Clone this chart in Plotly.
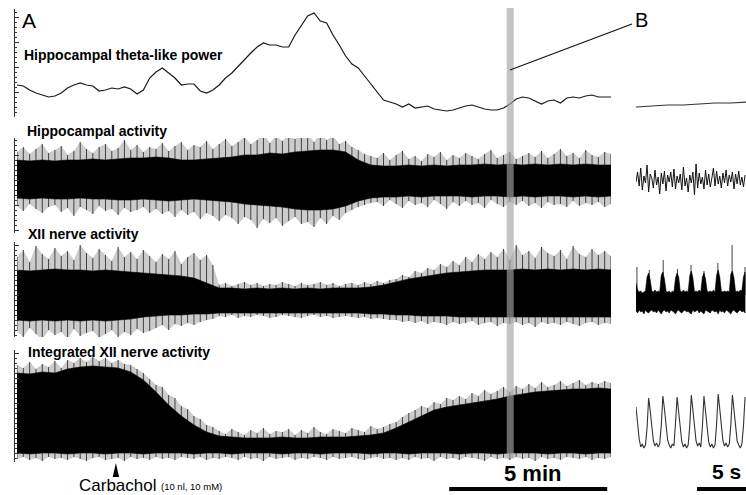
import numpy as np
import plotly.graph_objects as go

W, H = 746, 495

# ---------------- DATA ----------------
# Panel A (time in minutes). Fine series sampled every 0.2 min, envelopes every 0.4 min.
A_FINE_STEP = 0.2
A_CORE_STEP = 0.4

theta_power = [32, 31, 27, 24, 22, 20, 21, 24, 29, 32,
               34, 32, 31, 26, 27, 29, 28, 30, 28, 23,
               27, 39, 45, 49, 44, 39, 32, 33, 33, 26,
               24, 27, 32, 39, 44, 51, 57, 64, 70, 74,
               72, 72, 70, 70, 82, 91, 101, 104, 96, 94,
               82, 72, 61, 53, 49, 41, 33, 24, 17, 15,
               13, 10, 13, 9, 10, 11, 8, 7, 6, 7,
               9, 11, 12, 10, 8, 7, 7, 9, 13, 18,
               20, 19, 16, 13, 16, 17, 14, 19, 20, 19,
               21, 22, 20, 20, 20]

hippo_core_hi = [20, 19, 20, 19, 20, 20, 21, 20, 21, 22,
                 22, 23, 22, 20, 20, 21, 22, 23, 25, 25,
                 27, 26, 28, 29, 30, 30, 28, 20, 15, 14,
                 14, 15, 14, 15, 14, 15, 15, 16, 15, 16,
                 15, 16, 15, 16, 15, 16, 15, 15]
hippo_core_lo = [-18, -19, -18, -19, -19, -18, -19, -19, -20, -20,
                 -19, -20, -21, -20, -19, -20, -21, -22, -24, -25,
                 -26, -27, -29, -30, -30, -29, -26, -21, -18, -17,
                 -17, -16, -17, -16, -16, -16, -17, -16, -16, -17,
                 -16, -17, -16, -16, -17, -16, -17, -16]
hippo_spk_up = [28, 33, 26, 31, 36, 27, 30, 34, 25, 29, 38, 31, 27, 33, 36, 29, 32, 40, 30, 35, 28, 33,
                31, 37, 29, 34, 38, 30, 35, 33, 39, 31, 36, 41, 34, 38, 43, 36, 40, 47, 37, 44, 39, 45, 41, 48,
                46, 38, 47, 40, 44, 36, 39, 33, 30, 26, 24,
                22, 27, 20, 25, 29, 21, 24, 19, 26, 23, 28, 20, 25, 22, 27, 24, 21, 26, 30, 22,
                25, 28, 21, 24, 27, 23, 29, 22, 26, 31, 24, 27, 22, 30, 25, 23, 28, 26]
hippo_spk_dn = [-26, -31, -24, -29, -33, -27, -25, -32, -28, -36, -27, -30, -34, -26, -31, -29, -35, -28, -32, -30, -27, -33,
                -29, -34, -31, -37, -30, -35, -32, -39, -33, -36, -41, -35, -38, -44, -37, -40, -48, -39, -43, -38, -46, -41, -37, -44,
                -42, -47, -38, -44, -36, -40, -33, -30, -27, -25, -23,
                -22, -26, -20, -24, -28, -21, -25, -23, -27, -20, -24, -29, -22, -26, -21, -25, -23, -28, -20, -24,
                -27, -22, -25, -21, -26, -23, -28, -22, -25, -24, -27, -21, -26, -23, -25, -22, -27, -24]

xii_core_hi = [25, 24, 25, 26, 25, 25, 24, 25, 24, 23,
               22, 21, 20, 19, 17, 12, 7, 7, 6, 7,
               6, 7, 6, 7, 6, 7, 7, 7, 8, 10,
               13, 16, 18, 20, 22, 23, 24, 25, 25, 25,
               26, 25, 26, 25, 26, 25, 26, 25]
xii_core_lo = [-25, -26, -25, -26, -25, -26, -25, -26, -25, -24,
               -22, -21, -20, -20, -19, -19, -18, -18, -18, -18,
               -18, -18, -18, -18, -18, -18, -18, -18, -19, -19,
               -20, -20, -21, -21, -21, -22, -22, -22, -22, -22,
               -22, -22, -22, -22, -22, -22, -22, -22]
xii_spk_up = [38, 45, 33, 49, 41, 36, 47, 39, 44, 35, 50, 42, 37, 46, 40, 34, 48, 38, 43, 36, 45, 39,
              33, 41, 36, 44, 31, 38, 42, 35, 40, 30,
              10, 12, 9, 11, 13, 10, 12, 9, 11, 10, 13, 11, 9, 12, 10, 11, 13, 10, 12, 9, 11, 12, 10, 13, 11, 14, 12, 15,
              16, 20, 18, 24, 22, 27, 25, 31, 28, 34, 30, 38, 33, 41, 36, 43, 38, 46, 35, 50,
              40, 44, 37, 48, 42, 39, 45, 36, 49, 41, 38, 46, 40, 44, 39]
xii_spk_dn = [-36, -42, -33, -39, -45, -35, -40, -37, -44, -34, -41, -38, -36, -43, -39, -35, -42, -37, -40, -34, -38, -36,
              -33, -30, -35, -29, -31, -28, -30, -27, -25, -24,
              -21, -22, -20, -23, -21, -22, -20, -21, -23, -22, -20, -21, -22, -23, -21, -20, -22, -21, -23, -22,
              -21, -22, -23, -22, -24, -23, -24, -25,
              -25, -27, -26, -28, -26, -29, -27, -28, -30, -27, -29, -28, -26, -30, -28, -27, -31, -28, -29, -27,
              -30, -28, -32, -27, -29, -28, -30, -27, -29, -31, -28, -27, -30, -28, -29]

int_core_hi = [80, 79, 81, 80, 84, 86, 87, 86, 85, 81,
               73, 61, 48, 37, 28, 21, 17, 16, 15, 15,
               15, 16, 15, 15, 16, 16, 16, 17, 18, 20,
               25, 31, 37, 43, 46, 48, 50, 52, 54, 57,
               59, 61, 62, 63, 64, 64, 65, 64]
int_core_lo = [0, -1, 0, 0, -1, 0, 0, -1, 0, 0,
               -1, 0, 0, 0, -1, 0, 0, -1, 0, 0,
               0, -1, 0, 0, -1, 0, 0, 0, -1, 0,
               0, -1, 0, 0, 0, -1, 0, 0, -1, 0,
               0, 0, -1, 0, 0, -1, 0, 0]
int_spk_up = [88, 85, 91, 84, 89, 86, 92, 85, 93, 90, 95, 91, 96, 92, 95, 90, 93, 89, 88, 84, 80, 74,
              68, 66, 58, 55, 47, 44, 37, 34, 28, 26,
              22, 19, 24, 21, 18, 23, 20, 25, 19, 22, 21, 24, 18, 23, 20, 26, 21, 19, 24, 22, 20, 25, 23, 21,
              27, 24, 26, 29, 31,
              36, 40, 43, 47, 45, 51, 49, 55, 53, 57, 54, 60, 57, 63, 59, 62, 66, 61, 67, 64,
              69, 65, 71, 66, 68, 72, 67, 70, 73, 68, 71, 69, 72, 70]
int_spk_dn = [-6, -4, -7, -5, -8, -4, -6, -5, -7, -4, -6, -8, -5, -4, -7, -6, -5, -8, -4, -6, -5, -7,
              -4, -6, -5, -7, -4, -5, -6, -4, -7, -5,
              -6, -4, -5, -7, -4, -6, -5, -8, -4, -6, -5, -4, -7, -5, -6, -4, -5, -7, -4, -6, -5, -4, -6, -7,
              -5, -4, -6, -5, -7,
              -5, -7, -4, -6, -5, -8, -4, -6, -5, -7, -4, -5, -6, -8, -4, -6, -5, -7, -4, -6,
              -5, -8, -4, -6, -5, -7, -4, -5, -6, -4, -7, -5, -6, -4]

carbachol_min = 3.13          # time of carbachol injection (min)
b_window_min = [15.5, 15.72]  # window shown enlarged in panel B (min)
scale_a_min = 5               # scale bar panel A (min)
scale_b_s = 5                 # scale bar panel B (s)

# Panel B (time in seconds). Sampled every 0.05 s; theta every 0.5 s.
B_STEP = 0.05
b_theta = [10, 11, 12, 12, 13, 14, 14, 15]
b_hippo = [-2, 8, -6, 12, -10, 4, -3, 15, -12, 6,
           2, -8, 10, -5, 3, -14, 7, -4, 9, -11,
           5, -2, 8, -7, 11, -9, 4, -3, 6, -10,
           13, -6, 2, -12, 5, -3, 8, -15, 16, -8,
           7, -4, 3, -9, 10, -5, 6, -7, 2, 12,
           -6, 9, -4, 4, -8, 7, -3, 10, -6, 5,
           -2, 8, -9, 6, -4, 9, -5, 3, -7, 5]
b_xii_hi = [12, 5, 3, 4, 2, 3, 4, 18, 22, 15,
            4, 3, 5, 3, 4, 3, 20, 23, 16, 4,
            3, 4, 2, 4, 3, 17, 22, 18, 4, 3,
            5, 3, 4, 3, 19, 24, 17, 3, 4, 3,
            5, 3, 18, 22, 16, 4, 3, 4, 3, 5,
            3, 20, 25, 18, 4, 3, 4, 3, 4, 3,
            21, 24, 17, 3, 4, 3, 5, 4, 18, 23]
b_xii_lo = [-16, -18, -15, -17, -16, -19, -15, -17, -18, -16,
            -15, -17, -16, -18, -15, -17, -19, -16, -15, -17,
            -16, -18, -15, -16, -17, -19, -16, -15, -17, -18,
            -16, -15, -17, -16, -18, -19, -15, -17, -16, -15,
            -18, -16, -17, -19, -15, -16, -17, -18, -15, -16,
            -17, -16, -19, -15, -17, -16, -18, -15, -16, -17,
            -19, -16, -15, -17, -18, -16, -15, -17, -16, -18]
b_xii_spk_t = [0.03, 0.42, 0.86, 1.31, 1.74, 2.15, 2.59, 3.04, 3.45]
b_xii_spk = [28, 25, 35, 26, 30, 24, 32, 50, 28]
b_int = [46, 30, 14, 6, 9, 5, 8, 25, 55,
         42, 24, 12, 7, 10, 6, 9, 28, 57,
         44, 26, 13, 8, 5, 9, 7, 30, 56,
         41, 23, 11, 6, 9, 5, 8, 27, 58,
         43, 25, 12, 7, 10, 6, 26, 57,
         42, 24, 11, 6, 9, 5, 8, 29, 59,
         44, 26, 12, 7, 10, 6, 9, 28, 58,
         43, 25, 12, 8, 5, 9, 27, 56]

# ---------------- LAYOUT HELPERS ----------------
def fx(p):
    return p / W

def fy(p):
    return 1 - p / H

FONT = "Liberation Sans, Arial, Helvetica, sans-serif"

fig = go.Figure()

def t_grid(vals, step):
    return np.arange(len(vals)) * step

def spikes(t, tips):
    xs, ys = [], []
    for ti, v in zip(t, tips):
        xs += [float(ti), float(ti), None]
        ys += [0, v, None]
    return xs, ys

def add_band(hi, lo, up, dn, xa, ya, core_step, spk_step, spk_t=None):
    tu = t_grid(up, spk_step) if spk_t is None else np.array(spk_t)
    if dn is not None:
        # outer fringe (envelope of the spikes), light tone
        td = t_grid(dn, spk_step)
        fig.add_trace(go.Scatter(x=list(tu) + list(td[::-1]), y=list(up) + list(dn)[::-1],
                                 mode="lines", fill="toself", fillcolor="#cccccc",
                                 xaxis=xa, yaxis=ya, line=dict(width=0),
                                 hoverinfo="skip", showlegend=False))
    xs, ys = spikes(tu, up)
    if dn is not None:
        xd, yd = spikes(t_grid(dn, spk_step), dn)
        xs += xd
        ys += yd
    fig.add_trace(go.Scatter(x=xs, y=ys, mode="lines", xaxis=xa, yaxis=ya,
                             line=dict(color="#404040", width=1), hoverinfo="skip",
                             showlegend=False))
    tc = t_grid(hi, core_step)
    px_ = list(tc) + list(tc[::-1])
    py_ = list(hi) + list(lo)[::-1]
    fig.add_trace(go.Scatter(x=px_, y=py_, mode="lines", fill="toself",
                             fillcolor="#000000", xaxis=xa, yaxis=ya,
                             line=dict(color="#000000", width=0.6), hoverinfo="skip",
                             showlegend=False))

# Panel A traces
fig.add_trace(go.Scatter(x=t_grid(theta_power, A_FINE_STEP), y=theta_power, mode="lines",
                         xaxis="x", yaxis="y", line=dict(color="#1a1a1a", width=1.2),
                         showlegend=False))
add_band(hippo_core_hi, hippo_core_lo, hippo_spk_up, hippo_spk_dn, "x", "y2", A_CORE_STEP, A_FINE_STEP)
add_band(xii_core_hi, xii_core_lo, xii_spk_up, xii_spk_dn, "x", "y3", A_CORE_STEP, A_FINE_STEP)
add_band(int_core_hi, int_core_lo, int_spk_up, int_spk_dn, "x", "y4", A_CORE_STEP, A_FINE_STEP)

# Panel B traces
fig.add_trace(go.Scatter(x=t_grid(b_theta, 0.5), y=b_theta, mode="lines", xaxis="x2", yaxis="y5",
                         line=dict(color="#333333", width=1.2), showlegend=False))
fig.add_trace(go.Scatter(x=t_grid(b_hippo, B_STEP), y=b_hippo, mode="lines", xaxis="x2", yaxis="y6",
                         line=dict(color="#111111", width=1), showlegend=False))
add_band(b_xii_hi, b_xii_lo, b_xii_spk, None, "x2", "y7", B_STEP, B_STEP, spk_t=b_xii_spk_t)
fig.add_trace(go.Scatter(x=t_grid(b_int, B_STEP), y=b_int, mode="lines", xaxis="x2", yaxis="y8",
                         line=dict(color="#333333", width=1.1), showlegend=False))

# axes
A_T_END = (len(theta_power) - 1) * A_FINE_STEP
B_T_END = 3.48
seg = {  # pixel top, pixel bottom, value range
    "y": (9, 117, [0, 108]),
    "y2": (138, 233, [-53, 42]),
    "y3": (242, 337, [-42, 53]),
    "y4": (350, 462, [-9, 103]),
}
axcfg = dict(showline=True, linecolor="#333333", linewidth=1, ticks="inside", ticklen=4,
             tickwidth=1, tickcolor="#333333", dtick=25, tick0=0,
             minor=dict(ticks="inside", ticklen=2, dtick=5, tickcolor="#333333", tickwidth=1),
             showgrid=False, zeroline=False, showticklabels=False, fixedrange=True)
layout = dict(
    width=W, height=H, margin=dict(l=0, r=0, t=0, b=0),
    paper_bgcolor="white", plot_bgcolor="white", showlegend=False,
    xaxis=dict(domain=[fx(17), fx(611)], range=[0, A_T_END], visible=False, anchor="y4"),
    xaxis2=dict(domain=[fx(636), 1], range=[0, B_T_END], visible=False, anchor="y8"),
)
for i, (name, (top, bot, rng)) in enumerate(seg.items()):
    key = "yaxis" if name == "y" else "yaxis" + name[1:]
    layout[key] = dict(domain=[fy(bot), fy(top)], range=rng, anchor="free",
                       position=fx(14), **axcfg)
    layout["yaxis" + str(i + 5)] = dict(domain=[fy(bot), fy(top)], range=rng,
                                        anchor="x2", visible=False)
fig.update_layout(**layout)

# shapes
shapes = [
    dict(type="rect", xref="x", yref="paper", x0=b_window_min[0], x1=b_window_min[1],
         y0=fy(458), y1=fy(8), fillcolor="rgba(165,165,165,0.65)", line=dict(width=0), layer="above"),
    dict(type="line", xref="paper", yref="paper", x0=fx(510), y0=fy(70), x1=fx(632), y1=fy(24),
         line=dict(color="#111111", width=1.2)),
    dict(type="path", xref="x", yref="paper",
         path=f"M {carbachol_min},{fy(463)} L {carbachol_min - 0.1},{fy(477)} L {carbachol_min + 0.1},{fy(477)} Z",
         fillcolor="black", line=dict(width=0)),
    dict(type="line", xref="x", yref="paper", x0=A_T_END - 0.12 - scale_a_min, x1=A_T_END - 0.12,
         y0=fy(489), y1=fy(489), line=dict(color="black", width=4)),
    dict(type="line", xref="x2", yref="paper", x0=1.93, x1=1.93 + scale_b_s,
         y0=fy(489), y1=fy(489), line=dict(color="black", width=4)),
]
fig.update_layout(shapes=shapes)

def ann(text, x, y, size, xanchor="left", bold=False, xref="paper"):
    return dict(text=f"<b>{text}</b>" if bold else text, x=x, y=fy(y), xref=xref, yref="paper",
                xanchor=xanchor, yanchor="middle", showarrow=False, borderpad=0,
                font=dict(family=FONT, size=size, color="black"))

annotations = [
    ann("A", fx(21), 20, 21),
    ann("B", fx(641), 20, 20, xanchor="center"),
    ann("Hippocampal theta-like power", fx(23), 55, 14, bold=True),
    ann("Hippocampal activity", fx(26), 131, 14, bold=True),
    ann("XII nerve activity", fx(27), 234, 14, bold=True),
    ann("Integrated XII nerve activity", fx(27), 352, 14, bold=True),
    ann("Carbachol", fx(78), 485, 17),
    ann("(10 nl, 10 mM)", fx(160), 486, 9.5),
    ann(f"{scale_a_min} min", A_T_END - 0.12 - scale_a_min / 2 + 0.15, 473, 22, xanchor="center", bold=True, xref="x"),
    ann(f"{scale_b_s} s", 2.85, 471, 21, xanchor="center", bold=True, xref="x2"),
]
fig.update_layout(annotations=annotations)

fig.write_html("out.html", config={"displayModeBar": False, "staticPlot": True},
               post_script="document.body.style.margin='0px';document.body.style.overflow='hidden';")
